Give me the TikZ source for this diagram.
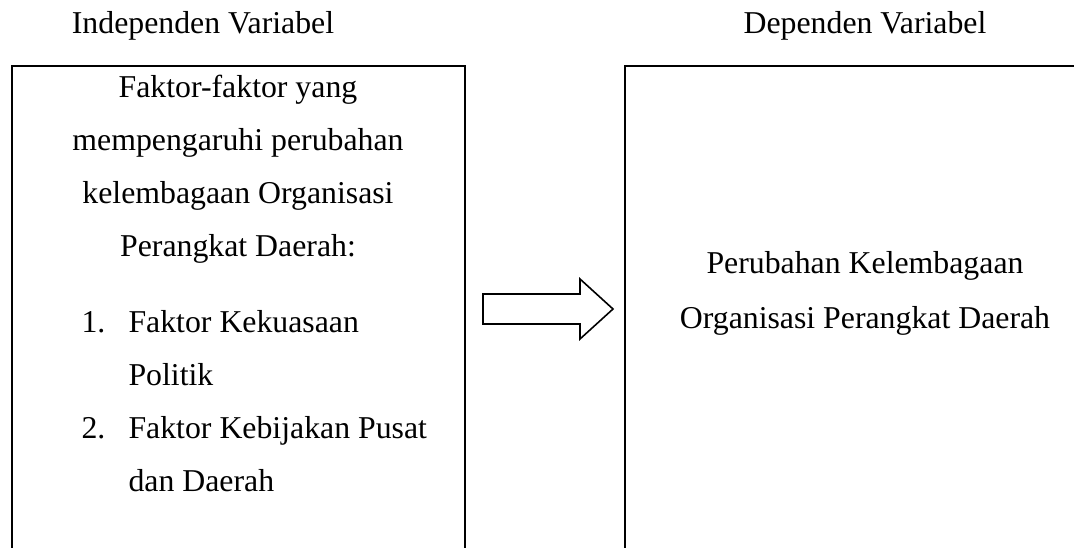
\documentclass[tikz,border=0pt]{standalone}
\usepackage{fontspec}
\setmainfont{Liberation Serif}
\begin{document}
\begin{tikzpicture}[x=0.3774pt,y=-0.3774pt,
  txt/.style={font=\fontsize{12}{20}\selectfont, inner sep=0pt, anchor=base},
  ltxt/.style={txt, anchor=base west},
  box/.style={draw, line width=0.75pt, inner sep=0pt, minimum height=201.5pt},
  arr/.style={draw, line width=0.6pt, fill=white, line join=miter}]
\useasboundingbox (0,0) rectangle (1074,548);
\clip (0,0) rectangle (1074,548);
% boxes
\node[box, minimum width=171.0pt] (lbox) at (238.5,333) {};
\node[box, minimum width=181.2pt] (rbox) at (865,333) {};
% headings
\node[txt] (hl) at (203,33) {Independen Variabel};
\node[txt] (hr) at (865,33) {Dependen Variabel};
% left text
\node[txt] (l1) at (238,97) {Faktor-faktor yang};
\node[txt] (l2) at (238,150) {mempengaruhi perubahan};
\node[txt] (l3) at (238,203) {kelembagaan Organisasi};
\node[txt] (l4) at (238,256) {Perangkat Daerah:};
\node[ltxt] (n1) at (81,332) {1.};
\node[ltxt] (i1) at (128,332) {Faktor Kekuasaan};
\node[ltxt] (i1b) at (128,385) {Politik};
\node[ltxt] (n2) at (81,438) {2.};
\node[ltxt] (i2) at (128,438) {Faktor Kebijakan Pusat};
\node[ltxt] (i2b) at (128,491) {dan Daerah};
% right text
\node[txt] (r1) at (865,273) {Perubahan Kelembagaan};
\node[txt] (r2) at (865,328) {Organisasi Perangkat Daerah};
% arrow
\coordinate (a1) at (483,294);
\coordinate (a2) at (580,294);
\coordinate (a3) at (580,279);
\coordinate (tip) at (613,309);
\coordinate (a5) at (580,339);
\coordinate (a6) at (580,324);
\coordinate (a7) at (483,324);
\draw[arr] (a1) -- (a2) -- (a3) -- (tip) -- (a5) -- (a6) -- (a7) -- cycle;
\end{tikzpicture}
\end{document}
